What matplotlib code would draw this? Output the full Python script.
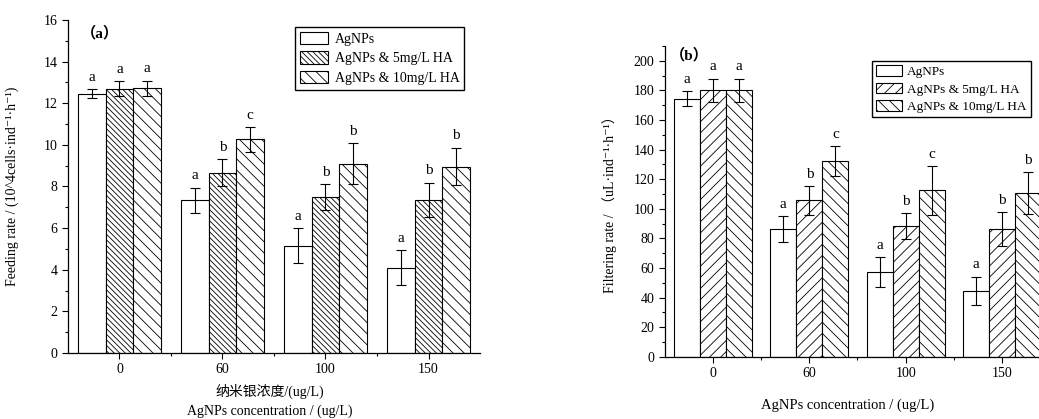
import numpy as np
import matplotlib
matplotlib.use("Agg")
import matplotlib.pyplot as plt

plt.rcParams['font.family'] = ['Liberation Serif', 'Noto Sans CJK SC', 'DejaVu Sans']
plt.rcParams['hatch.linewidth'] = 0.6
plt.rcParams['axes.linewidth'] = 0.9

# Data
categories = ["0", "60", "100", "150"]
series = ["AgNPs", "AgNPs & 5mg/L HA", "AgNPs & 10mg/L HA"]

# (a) feeding rate
feed_agnps = [12.45, 7.35, 5.15, 4.1]
feed_agnps_err = [0.22, 0.6, 0.84, 0.85]
feed_ha5 = [12.7, 8.67, 7.5, 7.36]
feed_ha5_err = [0.37, 0.63, 0.62, 0.83]
feed_ha10 = [12.72, 10.27, 9.1, 8.96]
feed_ha10_err = [0.37, 0.6, 0.98, 0.91]
feed_letters = [["a", "a", "a", "a"], ["a", "b", "b", "b"], ["a", "c", "b", "b"]]

# (b) filtering rate
filt_agnps = [174.5, 86.3, 57.4, 44.6]
filt_agnps_err = [5.0, 9.0, 10.0, 9.6]
filt_ha5 = [180.0, 105.6, 88.3, 86.3]
filt_ha5_err = [8.0, 9.7, 8.6, 11.7]
filt_ha10 = [180.0, 132.2, 112.4, 110.8]
filt_ha10_err = [8.0, 10.4, 16.5, 14.2]
filt_letters = [["a", "a", "a", "a"], ["a", "b", "b", "b"], ["a", "c", "c", "b"]]

fig = plt.figure(figsize=(10.39, 4.19), dpi=100)
fig.patch.set_facecolor('white')


def draw_panel(ax, vals, errs, letters, hatches, ylim, major, minor, letter_off):
    x = np.arange(1, len(categories) + 1)
    w = 0.27
    for i, (v, e, h) in enumerate(zip(vals, errs, hatches)):
        pos = x + (i - 1) * w
        ax.bar(pos, v, w, color='white', edgecolor='black', linewidth=0.8,
               hatch=h, label=series[i], zorder=2)
        ax.errorbar(pos, v, yerr=e, fmt='none', ecolor='black', elinewidth=0.8,
                    capsize=3.5, capthick=0.8, zorder=3)
        for p, vv, ee, lt in zip(pos, v, e, letters[i]):
            ax.text(p, vv + ee + letter_off, lt, ha='center', va='bottom', fontsize=11)
    ax.set_xlim(0.5, 4.5)
    ax.set_ylim(*ylim)
    ax.set_xticks(x)
    ax.set_xticklabels(categories)
    ax.set_xticks(np.arange(1.5, 4.5, 1.0), minor=True)
    ax.set_yticks(np.arange(ylim[0], ylim[1] + 0.01, major))
    ax.set_yticks(np.arange(ylim[0], ylim[1] + 0.01, minor), minor=True)
    ax.spines['top'].set_visible(False)
    ax.spines['right'].set_visible(False)
    ax.tick_params(axis='both', which='major', direction='out', length=4, width=0.8,
                   labelsize=10)
    ax.tick_params(axis='both', which='minor', direction='out', length=2, width=0.8)


ax1 = fig.add_axes([0.0654, 0.1575, 0.3966, 0.7948])
draw_panel(ax1, [feed_agnps, feed_ha5, feed_ha10],
           [feed_agnps_err, feed_ha5_err, feed_ha10_err], feed_letters,
           ['', '\\' * 6, '\\' * 3], (0, 16), 2, 1, 0.25)
ax1.text(0.078, 0.961, "（a）", transform=ax1.transAxes, ha='center', va='center',
         fontsize=11, weight='bold')
ax1.set_ylabel("Feeding rate / (10^4cells·ind⁻¹·h⁻¹)", fontsize=10)
ax1.yaxis.set_label_coords(-0.12, 0.5)
ax1.text(0.49, -0.116, "纳米银浓度/(ug/L)", transform=ax1.transAxes, ha='center',
         va='center', fontsize=10)
ax1.text(0.49, -0.176, "AgNPs concentration / (ug/L)", transform=ax1.transAxes,
         ha='center', va='center', fontsize=10)
ax1.legend(loc='upper left', bbox_to_anchor=(0.551, 0.979), fontsize=10, frameon=True,
           fancybox=False, edgecolor='black', framealpha=1, handlelength=2.0,
           handleheight=1.0, handletextpad=0.5, labelspacing=0.4, borderpad=0.35,
           borderaxespad=0)

ax2 = fig.add_axes([0.640, 0.1487, 0.3706, 0.7415])
draw_panel(ax2, [filt_agnps, filt_ha5, filt_ha10],
           [filt_agnps_err, filt_ha5_err, filt_ha10_err], filt_letters,
           ['', '/' * 3, '\\' * 3], (0, 210), 20, 10, 3.5)
ax2.text(0.062, 0.972, "（b）", transform=ax2.transAxes, ha='center', va='center',
         fontsize=11, weight='bold')
ax2.set_yticks(np.arange(0, 201, 20))
ax2.set_ylabel("Filtering rate / （uL·ind⁻¹·h⁻¹）", fontsize=10)
ax2.yaxis.set_label_coords(-0.125, 0.5)
ax2.set_xlabel("AgNPs concentration / (ug/L)", fontsize=10.5)
ax2.xaxis.set_label_coords(0.475, -0.136)
ax2.legend(loc='upper left', bbox_to_anchor=(0.537, 0.952), fontsize=9.5, frameon=True,
           fancybox=False, edgecolor='black', framealpha=1, handlelength=2.0,
           handleheight=0.9, handletextpad=0.4, labelspacing=0.35, borderpad=0.3,
           borderaxespad=0)

fig.savefig("out.png", dpi=100)
